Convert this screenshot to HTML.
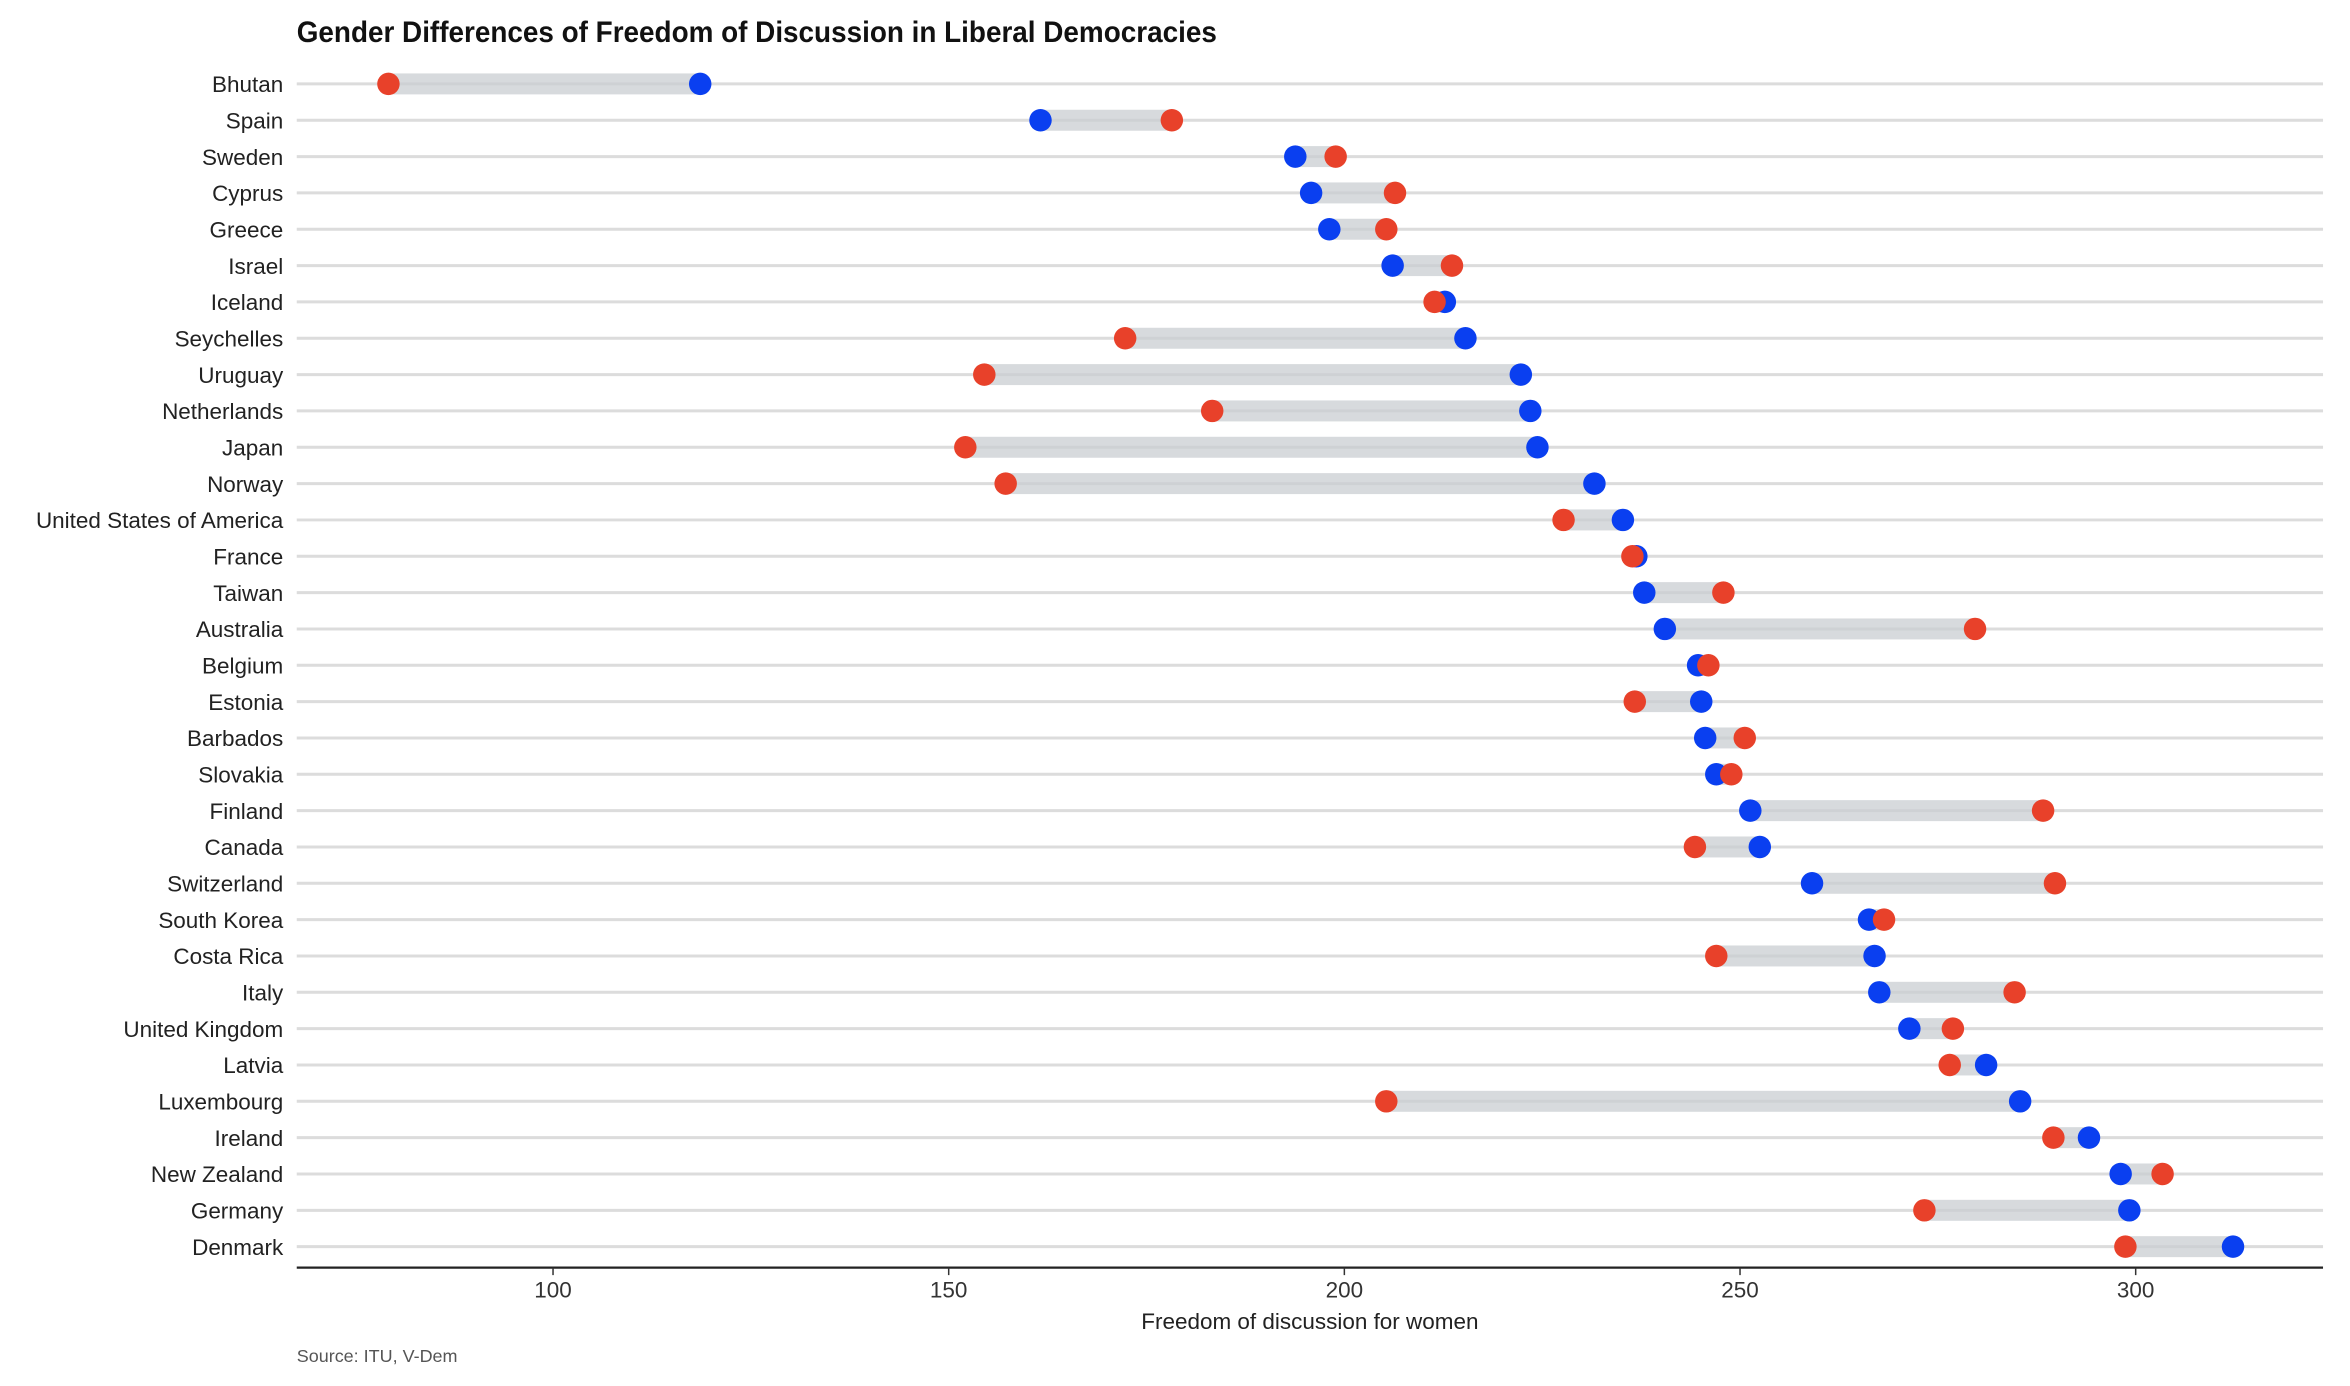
<!DOCTYPE html>
<html><head><meta charset="utf-8"><style>
html,body{margin:0;padding:0;background:#fff;}
svg{display:block;font-family:"Liberation Sans Narrow","Liberation Sans",sans-serif;}
</style></head><body>
<svg id="chart" width="2350" height="1386" viewBox="0 0 1568 925" preserveAspectRatio="none" xmlns="http://www.w3.org/2000/svg">
<text x="198" y="28" font-size="20" font-weight="bold" fill="#111" transform="translate(198 0) scale(0.93 1) translate(-198 0)">Gender Differences of Freedom of Discussion in Liberal Democracies</text>
<g id="grid"></g><g id="bars"></g><g id="dots"></g><g id="labels"></g><g id="xaxis"></g>
<text x="874" y="887" font-size="15" text-anchor="middle" fill="#222">Freedom of discussion for women</text>
<text x="198" y="909" font-size="12" fill="#555">Source: ITU, V-Dem</text>
</svg>
<script>
const countries=["Bhutan","Spain","Sweden","Cyprus","Greece","Israel","Iceland","Seychelles","Uruguay","Netherlands","Japan","Norway","United States of America","France","Taiwan","Australia","Belgium","Estonia","Barbados","Slovakia","Finland","Canada","Switzerland","South Korea","Costa Rica","Italy","United Kingdom","Latvia","Luxembourg","Ireland","New Zealand","Germany","Denmark"];
const womenValues=[79.2,178.2,198.9,206.4,205.3,213.6,211.4,172.3,154.5,183.3,152.1,157.2,227.7,236.4,247.9,279.7,246.0,236.7,250.6,248.9,288.3,244.3,289.8,268.2,247.0,284.7,276.9,276.5,205.3,289.6,303.4,273.3,298.7];
const menValues=[118.6,161.6,193.8,195.8,198.1,206.1,212.7,215.3,222.3,223.5,224.4,231.6,235.2,236.9,237.9,240.5,244.7,245.1,245.6,247.0,251.3,252.5,259.1,266.3,267.0,267.6,271.4,281.1,285.4,294.1,298.1,299.2,312.3];
const xTicks=[100,150,200,250,300];
const NS="http://www.w3.org/2000/svg";
const xScale=v=>369+(v-100)*5.28;
const yScale=i=>56+i*24.25;
function mk(tag,attrs,parent){const e=document.createElementNS(NS,tag);for(const k in attrs)e.setAttribute(k,attrs[k]);parent.appendChild(e);return e;}
const grid=document.getElementById('grid'),bars=document.getElementById('bars'),dots=document.getElementById('dots'),labels=document.getElementById('labels'),xaxis=document.getElementById('xaxis');
countries.forEach((c,i)=>{
  const y=yScale(i);
  const g=mk('line',{x1:198,x2:1550,y1:y,y2:y,stroke:'#dcdcdc','stroke-width':2},grid);
  
  
  const a=Math.min(womenValues[i],menValues[i]),b=Math.max(womenValues[i],menValues[i]);
  const r=mk('rect',{x:xScale(a),y:y-7,width:xScale(b)-xScale(a),height:14,fill:'#c9cdd2','fill-opacity':0.75},bars);
  
  
  const t=mk('text',{x:189,y:y+5.5,'font-size':15,'text-anchor':'end',fill:'#222'},labels);
  t.textContent=c;
  
  
});
countries.forEach((c,i)=>{
  const y=yScale(i);
  const m=mk('circle',{cx:xScale(menValues[i]),cy:y,r:7.5,fill:'#0a3ff0'},dots);
  
  
  const w=mk('circle',{cx:xScale(womenValues[i]),cy:y,r:7.5,fill:'#e8412a'},dots);
  
  
});
const ax=mk('line',{x1:198,x2:1550,y1:846,y2:846,stroke:'#222','stroke-width':1.5},xaxis);


xTicks.forEach(v=>{
  const x=xScale(v);
  const tk=mk('line',{x1:x,x2:x,y1:846,y2:851,stroke:'#333','stroke-width':1},xaxis);
  
  
  const tl=mk('text',{x:x,y:866,'font-size':15,'text-anchor':'middle',fill:'#333'},xaxis);
  tl.textContent=v;
  
  
});
</script>
</body></html>
